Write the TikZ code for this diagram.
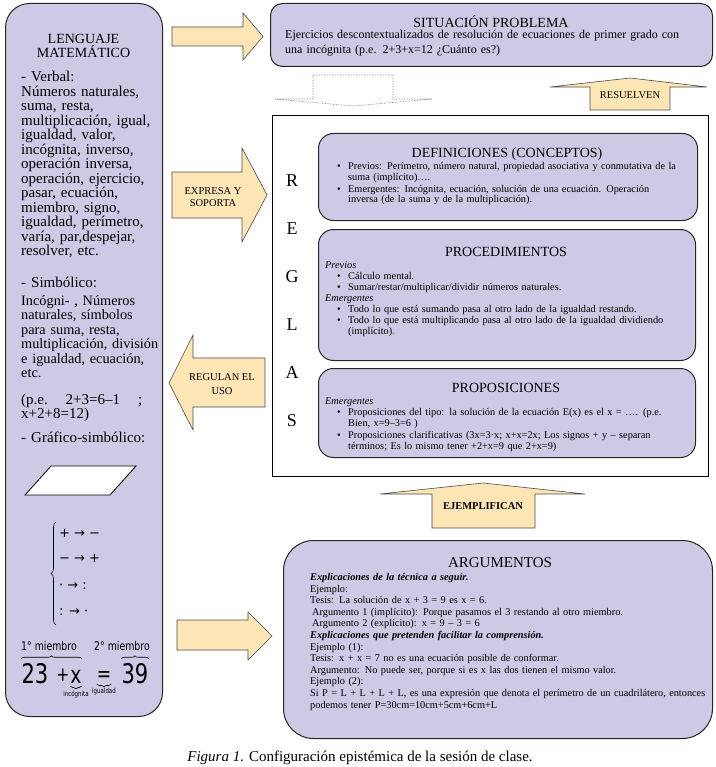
\documentclass[tikz,border=0pt]{standalone}
\usepackage{fontspec}
\setmainfont{Liberation Serif}
\newfontfamily\simbfont{DejaVu Sans}
\newfontfamily\ecufont[FakeStretch=0.78]{DejaVu Sans}
\usetikzlibrary{decorations.pathreplacing}

\definecolor{lavanda}{RGB}{204,202,228}
\definecolor{durazno}{RGB}{253,229,182}

% lineas justificadas y vinetas
\newcommand{\lineaj}[1]{\makebox[\hsize][s]{#1}}
\newcommand{\vin}{\hspace*{12pt}\makebox[11pt][l]{\textbullet}}
\newcommand{\vsig}{\hspace*{23pt}}
\newcommand{\vinj}[1]{\vin\makebox[\dimexpr\hsize-23pt\relax][s]{#1}}

\tikzset{
  caja/.style={draw=black!85, line width=1pt, fill=lavanda},
  flecha/.style={draw=black!70, line width=0.6pt, fill=durazno},
  hueca/.style={draw=black!55, densely dotted, line width=0.6pt},
  etiq/.style={inner sep=0pt, align=center, font=\fontsize{10.5}{11.5}\selectfont},
  titulo/.style={inner sep=0pt, font=\fontsize{14}{14}\selectfont},
  izq/.style={inner sep=0pt, text width=150, align=left, font=\fontsize{15}{14.5}\selectfont},
  cuerpo/.style={inner sep=0pt, text width=365, align=left, font=\fontsize{10.3}{10.5}\selectfont},
  llave/.style={decorate, decoration={brace, amplitude=#1}, line width=0.6pt},
  llave/.default=4pt,
  signo/.style={inner sep=0pt, font=\simbfont\fontsize{13}{13}\selectfont},
  ecu/.style={inner sep=0pt, font=\ecufont\fontsize{#1}{#1}\selectfont},
}

\begin{document}
\begin{tikzpicture}[x=1pt, y=-1pt]
  \fill[white] (0,0) rectangle (715,767);
  \useasboundingbox (0,0) rectangle (715,767);

  % Lenguaje matematico
  \node[caja, rounded corners=24pt, anchor=north west, minimum width=157, minimum height=713] (lenguaje) at (5,3) {};
  \node[titulo, align=center, anchor=base] (lentit) at (83.5,58) {LENGUAJE\\MATEMÁTICO};
  \node[izq, anchor=base west] (verbal) at (21,82) {- Verbal:\\Números naturales,\\suma, resta,\\multiplicación, igual,\\igualdad, valor,\\incógnita, inverso,\\operación inversa,\\operación, ejercicio,\\pasar, ecuación,\\miembro, signo,\\igualdad, perímetro,\\varía, par,despejar,\\resolver, etc.};
  \node[izq, anchor=base west] (simbol) at (21,287) {- Simbólico:};
  \node[izq, font=\fontsize{14.3}{14.5}\selectfont, anchor=base west] (simbtx) at (21,305) {Incógni- , Números\\naturales, símbolos\\para suma, resta,\\multiplicación, división\\e igualdad, ecuación,\\etc.};
  \node[izq, text width=121, anchor=base west] (pe) at (21,404) {(p.e.\hfill 2+3=6–1\hfill ;\\x+2+8=12)};
  \node[izq, anchor=base west] (grafic) at (21,442) {- Gráfico-simbólico:};
  \draw[line width=0.8pt, fill=white] (25,495) -- (110,495) -- (136,466) -- (51,466) -- cycle;

  % reglas de los signos
  \node[signo, anchor=west] (fila1) at (59,533) {+ → −};
  \node[signo, anchor=west] (fila2) at (59,558) {− → +};
  \node[signo, anchor=west] (fila3) at (59,586) {· → :};
  \node[signo, anchor=west] (fila4) at (59,612) {: → ·};
  \coordinate (llsup) at (56,522);
  \coordinate (llinf) at (56,625);
  \draw[llave=5pt] (llinf) -- (llsup);

  % ecuacion con sus partes
  \node[ecu=27, anchor=base] (n23) at (35,683) {23};
  \node[ecu=20, anchor=base] (mas) at (63,681) {+};
  \node[ecu=24, anchor=base] (incx) at (76,683) {x};
  \node[ecu=22, anchor=base] (igual) at (104,681) {=};
  \node[ecu=27, anchor=base] (n39) at (135,683) {39};
  \draw[llave=3pt] ([yshift=4pt]n23.north west) -- ([yshift=4pt]n23.north west -| incx.east);
  \draw[llave=3pt] ([yshift=4pt]n39.north west) -- ([yshift=4pt]n39.north east);
  \draw[llave=2.5pt] ([yshift=-3pt]incx.south east) -- ([yshift=-3pt]incx.south west);
  \draw[llave=2.5pt] ([yshift=-3pt]igual.south east) -- ([yshift=-3pt]igual.south west);
  \node[ecu=12, anchor=base] (mie1) at (49,650) {1° miembro};
  \node[ecu=12, anchor=base] (mie2) at (122,650) {2° miembro};
  \node[ecu=7, anchor=north] (lincog) at ([yshift=-7pt]incx.south) {incógnita};
  \node[ecu=7, anchor=north] (ligual) at ([yshift=-7pt]igual.south) {igualdad};

  % Situacion problema
  \node[caja, rounded corners=12pt, anchor=north west, minimum width=442, minimum height=63] (situac) at (270,3) {};
  \node[titulo, anchor=base] (sittit) at (491,27.5) {SITUACIÓN PROBLEMA};
  \node[inner sep=0pt, text width=420, align=left, font=\fontsize{12}{15}\selectfont, anchor=base west] (sittx) at (285,38.5) {\lineaj{Ejercicios descontextualizados de resolución de ecuaciones de primer grado con}\\una incógnita (p.e. 2+3+x=12 ¿Cuánto es?)};

  % flechas de relacion
  \draw[flecha] (172,27) -- (243,27) -- (243,13) -- (263,36.5) -- (243,60) -- (243,46) -- (172,46) -- cycle;
  \draw[flecha] (172,172) -- (242,172) -- (242,148) -- (267,195) -- (242,242) -- (242,218) -- (172,218) -- cycle;
  \node[etiq] (expresa) at (213,197) {EXPRESA Y\\SOPORTA};
  \draw[flecha] (265,358) -- (193,358) -- (193,335) -- (169,383) -- (193,430) -- (193,407) -- (265,407) -- cycle;
  \node[etiq, font=\fontsize{10.5}{14}\selectfont] (regulan) at (222,384) {REGULAN EL\\USO};
  \draw[flecha] (177,620) -- (248,620) -- (248,612) -- (272,636) -- (248,660) -- (248,650) -- (177,650) -- cycle;
  \draw[hueca] (313,75) -- (393,75) -- (393,99) -- (432,99) -- (353,106) -- (275,99) -- (313,99) -- cycle;
  \draw[flecha] (590,110) -- (670,110) -- (670,87) -- (707,87) -- (630,78) -- (550,87) -- (590,87) -- cycle;
  \node[etiq] (resuelven) at (630,95) {RESUELVEN};
  \draw[flecha] (432,528) -- (535,528) -- (535,494) -- (585,494) -- (483,483) -- (380,494) -- (432,494) -- cycle;
  \node[etiq, font=\bfseries\fontsize{10.5}{11.5}\selectfont] (ejemplif) at (483,506) {EJEMPLIFICAN};

  % Reglas
  \node[draw, line width=0.8pt, fill=white, anchor=north west, minimum width=436, minimum height=361] (reglas) at (272,115) {};
  \foreach \letra [count=\i] in {R,E,G,L,A,S}
    \node[font=\fontsize{18}{18}\selectfont] (letra\i) at (292,{133+48*\i}) {\letra};

  \node[caja, rounded corners=15pt, anchor=north west, minimum width=379, minimum height=87] (defin) at (318,133) {};
  \node[titulo, anchor=base] (deftit) at (507,158) {DEFINICIONES (CONCEPTOS)};
  \node[cuerpo, anchor=base west] (deftx) at (325,170) {\vinj{Previos: Perímetro, número natural, propiedad asociativa y conmutativa de la}\\
    \vsig suma (implícito)….\\[1.5pt]
    \vinj{Emergentes: Incógnita, ecuación, solución de una ecuación. Operación}\\
    \vsig inversa (de la suma y de la multiplicación).};

  \node[caja, rounded corners=15pt, anchor=north west, minimum width=377, minimum height=131] (proced) at (318,229) {};
  \node[titulo, anchor=base] (protit) at (506,256) {PROCEDIMIENTOS};
  \node[cuerpo, font=\fontsize{10.3}{11}\selectfont, anchor=base west] (protx) at (325,268) {\textit{Previos}\\
    \vin Cálculo mental.\\
    \vin Sumar/restar/multiplicar/dividir números naturales.\\
    \textit{Emergentes}\\
    \vin Todo lo que está sumando pasa al otro lado de la igualdad restando.\\
    \vinj{Todo lo que está multiplicando pasa al otro lado de la igualdad dividiendo}\\
    \vsig (implícito).};

  \node[caja, rounded corners=15pt, anchor=north west, minimum width=377, minimum height=89] (propos) at (318,368) {};
  \node[titulo, anchor=base] (prptit) at (506,392) {PROPOSICIONES};
  \node[cuerpo, anchor=base west] (prptx) at (325,404) {\textit{Emergentes}\\[1pt]
    \vinj{Proposiciones del tipo: la solución de la ecuación E(x) es el x = …. (p.e.}\\
    \vsig Bien, x=9–3=6 )\\[2pt]
    \vinj{Proposiciones clarificativas (3x=3·x; x+x=2x; Los signos + y – separan}\\
    \vsig términos; Es lo mismo tener +2+x=9 que 2+x=9)};

  % Argumentos
  \node[caja, rounded corners=30pt, anchor=north west, minimum width=429, minimum height=198] (argum) at (283,540) {};
  \node[titulo, font=\fontsize{15}{15}\selectfont, anchor=base] (argtit) at (500,567) {ARGUMENTOS};
  \node[cuerpo, text width=400, font=\fontsize{10.3}{11.6}\selectfont, anchor=base west] (argtx) at (310,580.5) {\textbf{\textit{Explicaciones de la técnica a seguir.}}\\
    Ejemplo:\\
    Tesis: La solución de x + 3 = 9 es x = 6.\\
    \hspace*{2pt}Argumento 1 (implícito): Porque pasamos el 3 restando al otro miembro.\\
    \hspace*{2pt}Argumento 2 (explícito): x = 9 – 3 = 6\\
    \textbf{\textit{Explicaciones que pretenden facilitar la comprensión.}}\\
    Ejemplo (1):\\
    Tesis: x + x = 7 no es una ecuación posible de conformar.\\
    Argumento: No puede ser, porque si es x las dos tienen el mismo valor.\\
    Ejemplo (2):\\
    Si P = L + L + L + L, es una expresión que denota el perímetro de un cuadrilátero, entonces\\
    podemos tener P=30cm=10cm+5cm+6cm+L};

  % pie de figura
  \node[inner sep=0pt, font=\fontsize{15}{15}\selectfont, anchor=base] (pie) at (360,761) {\textit{Figura 1.} Configuración epistémica de la sesión de clase.};
\end{tikzpicture}
\end{document}
